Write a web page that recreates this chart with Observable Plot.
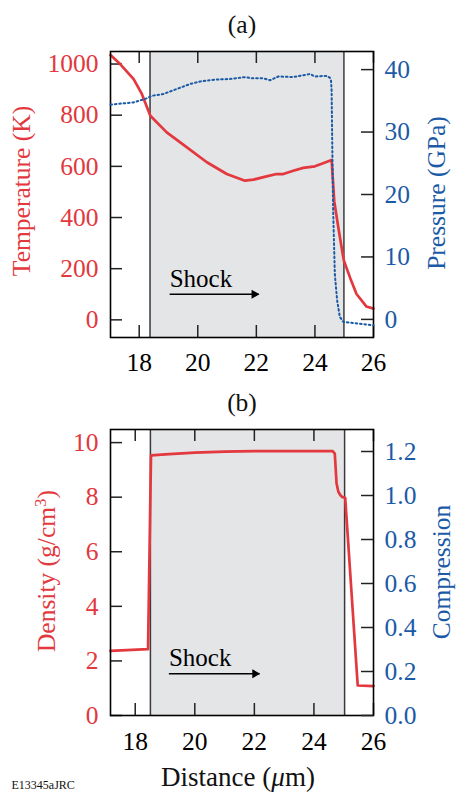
<!DOCTYPE html>
<html><head><meta charset="utf-8">
<script src="https://cdn.jsdelivr.net/npm/d3@7"></script>
<script src="https://cdn.jsdelivr.net/npm/@observablehq/plot@0.6"></script>
<style>
html,body{margin:0;padding:0;background:#fff;}
#root{position:relative;width:457px;height:792px;overflow:hidden;background:#fff;font-family:"Liberation Serif","Times New Roman",Times,serif;}
#root svg{position:absolute;left:0;}
#root svg text{font-family:"Liberation Serif","Times New Roman",Times,serif;}
</style></head><body><div id="root"></div>
<script>
// ---------- data ----------
const xTicks = [18, 20, 22, 24, 26];
const tempTicks = [0, 200, 400, 600, 800, 1000];
const pressTicks = [0, 10, 20, 30, 40];
const densTicks = [0, 2, 4, 6, 8, 10];
const compTicks = [0, 0.2, 0.4, 0.6, 0.8, 1.0, 1.2];

// panel (a) temperature
const distT = [17.02, 17.35, 17.81, 18.09, 18.38, 18.94, 19.63, 20.31, 20.99, 21.61, 21.9, 22.35, 22.69, 22.92, 23.26, 23.6, 24.0, 24.28, 24.57, 24.66, 24.8, 24.95, 24.99, 25.2, 25.42, 25.76, 26.0];
const temperature = [1035, 1000, 941, 883, 798, 733, 674, 616, 570, 544, 548, 561, 570, 570, 583, 594, 600, 612, 625, 464, 360, 256, 231, 165, 101, 52, 44];
// panel (a) pressure
const distP = [17.02, 17.81, 18.26, 18.43, 18.83, 19.17, 19.74, 20.08, 20.59, 21.1, 21.61, 21.89, 22.24, 22.47, 22.75, 23.26, 23.83, 24.0, 24.4, 24.51, 24.55, 24.57, 24.59, 24.62, 24.68, 24.76, 24.85, 24.97, 26.0];
const pressure = [34.4, 34.75, 35.4, 35.8, 36.1, 36.7, 37.7, 38.1, 38.4, 38.5, 38.8, 38.6, 38.6, 38.3, 38.9, 38.8, 39.3, 38.9, 39.0, 38.7, 38.2, 36.6, 28.6, 17.9, 7.2, 3.0, 0.4, -0.4, -0.95];
// panel (b) density
const distD = [17.17, 18.43, 18.53, 19.0, 20.0, 21.0, 22.0, 23.0, 24.0, 24.63, 24.70, 24.76, 24.82, 24.89, 24.96, 25.05, 25.47, 26.0];
const density = [2.37, 2.43, 9.53, 9.57, 9.63, 9.67, 9.69, 9.69, 9.69, 9.69, 9.6, 8.5, 8.2, 8.07, 8.0, 7.98, 1.1, 1.08];

// shocked regions
const shockA = [{start: 18.37, end: 24.99}];
const shockB = [{start: 18.51, end: 25.03}];
// annotations
const labelA = [{x: 19.04, y: 127, text: "Shock"}];
const arrowA = [{x1: 19.04, x2: 22.08, y: 100}];
const labelB = [{x: 19.13, y: 1.81, text: "Shock"}];
const arrowB = [{x1: 19.13, x2: 22.17, y: 1.53}];

const tempData = distT.map((x, i) => ({x, y: temperature[i]}));
const pressData = distP.map((x, i) => ({x, y: pressure[i]}));
const densData = distD.map((x, i) => ({x, y: density[i]}));

// ---------- style ----------
const RED = "#e2383e", BLUE = "#1b5aa6";
const FONT = '"Liberation Serif","Times New Roman",Times,serif';
const W = 457, ML = 110, MR = 84, TICK = 12;
const root = document.getElementById("root");

function panel({top, height, mt, mb, xDomain, yDomain, y2Domain, yTicks, y2Ticks, y2Format, shock, data, data2, label, arrow, xPad}) {
  const innerW = W - ML - MR, innerH = height - mt - mb;
  const common = {
    width: W, height, marginTop: mt, marginBottom: mb, marginLeft: ML, marginRight: MR,
    style: {fontFamily: FONT, fontSize: "25px", background: "transparent", overflow: "visible"}
  };
  const p1 = Plot.plot({
    ...common,
    x: {domain: xDomain},
    y: {domain: yDomain},
    marks: [
      Plot.rect(shock, {x1: "start", x2: "end", fill: "#e4e5e7"}),
      Plot.ruleX(shock, {x: "start", stroke: "#3a3a3a", strokeWidth: 1.5}),
      Plot.ruleX(shock, {x: "end", stroke: "#3a3a3a", strokeWidth: 1.5}),
      Plot.ruleX(xTicks, {x: d => d, insetBottom: innerH - TICK, stroke: "#222", strokeWidth: 1.5}),
      Plot.ruleX(xTicks, {x: d => d, insetTop: innerH - TICK, stroke: "#222", strokeWidth: 1.5}),
      Plot.ruleY(yTicks, {y: d => d, insetRight: innerW - TICK, stroke: "#222", strokeWidth: 1.5}),
      Plot.axisY({ticks: yTicks, tickSize: 0, tickPadding: 12, color: RED, label: null, fontSize: 25.5, tickFormat: d => String(d)}),
      Plot.axisX({ticks: xTicks, tickSize: 0, tickPadding: xPad, color: "black", label: null, fontSize: 25.5, tickFormat: d => String(d)}),
      Plot.line(data, {x: "x", y: "y", stroke: RED, strokeWidth: 2.7}),
      Plot.text(label, {x: "x", y: "y", text: "text", textAnchor: "start", lineAnchor: "bottom", fontSize: 25, fill: "black"}),
      Plot.link(arrow, {x1: "x1", x2: "x2", y1: "y", y2: "y", stroke: "black", strokeWidth: 1.4}),
      Plot.dot(arrow, {x: "x2", y: "y", symbol: "triangle", rotate: 90, r: 3.4, dx: -4.5, fill: "black", stroke: "none"}),
      Plot.frame({stroke: "black", strokeWidth: 1.6})
    ]
  });
  p1.style.top = top + "px";
  root.appendChild(p1);

  const marks2 = [
    Plot.ruleY(y2Ticks, {y: d => d, insetLeft: innerW - TICK, stroke: "#222", strokeWidth: 1.5}),
    Plot.axisY({ticks: y2Ticks, anchor: "right", tickSize: 0, tickPadding: 11, color: BLUE, label: null, fontSize: 25.5, tickFormat: y2Format})
  ];
  if (data2) marks2.push(Plot.line(data2, {x: "x", y: "y", stroke: BLUE, strokeWidth: 2, strokeDasharray: "1.6,2.8"}));
  const p2 = Plot.plot({
    ...common,
    x: {domain: xDomain, axis: null},
    y: {domain: y2Domain},
    marks: marks2
  });
  p2.style.top = top + "px";
  root.appendChild(p2);
}

panel({
  top: 0, height: 380, mt: 51, mb: 43,
  xDomain: [17.02, 26], yDomain: [-69, 1049], y2Domain: [-2.9, 42.9],
  yTicks: tempTicks, y2Ticks: pressTicks, y2Format: d => String(d),
  shock: shockA, data: tempData, data2: pressData, label: labelA, arrow: arrowA, xPad: 15
});
panel({
  top: 380, height: 412, mt: 49, mb: 77,
  xDomain: [17.17, 26], yDomain: [0, 10.48], y2Domain: [0, 1.30],
  yTicks: densTicks, y2Ticks: compTicks, y2Format: d => d.toFixed(1),
  shock: shockB, data: densData, data2: null, label: labelB, arrow: arrowB, xPad: 16.5
});

// ---------- text overlay ----------
const ov = d3.create("svg").attr("width", W).attr("height", 792)
  .style("top", "0px").style("left", "0px").style("position", "absolute")
  .style("font-family", FONT).attr("font-size", 25.5);
function hText(x, y, str, color) {
  return ov.append("text").attr("x", x).attr("y", y).attr("text-anchor", "middle").attr("fill", color).text(str);
}
function vText(x, y, color) {
  return ov.append("text").attr("transform", `translate(${x},${y}) rotate(-90)`).attr("text-anchor", "middle").attr("fill", color);
}
hText(242, 32.5, "(a)", "#111");
hText(242, 410.5, "(b)", "#111");
vText(30, 191, RED).text("Temperature (K)");
vText(444.5, 193, BLUE).text("Pressure (GPa)");
const dens = vText(54.5, 571, RED);
dens.append("tspan").text("Density (g/cm");
dens.append("tspan").attr("dy", -9).attr("font-size", 17).text("3");
dens.append("tspan").attr("dy", 9).text(")");
vText(449.5, 572, BLUE).text("Compression");
const dist = ov.append("text").attr("x", 238).attr("y", 785.5).attr("text-anchor", "middle").attr("fill", "#111").attr("font-size", 27);
dist.append("tspan").text("Distance (");
dist.append("tspan").attr("font-style", "italic").text("μ");
dist.append("tspan").text("m)");
ov.append("text").attr("x", 11.5).attr("y", 789).attr("font-size", 12).attr("fill", "#111").text("E13345aJRC");
root.appendChild(ov.node());
</script></body></html>
